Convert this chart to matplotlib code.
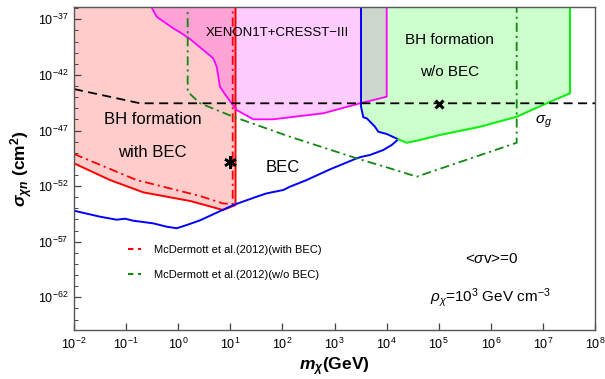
import numpy as np
import matplotlib
matplotlib.use("Agg")
import matplotlib.pyplot as plt
from matplotlib.ticker import FixedLocator, NullFormatter
from matplotlib.lines import Line2D

plt.rcParams['font.family'] = ['Liberation Sans', 'DejaVu Sans']
plt.rcParams['mathtext.fontset'] = 'custom'
plt.rcParams['mathtext.rm'] = 'Liberation Sans'
plt.rcParams['mathtext.it'] = 'Liberation Sans:italic'
plt.rcParams['mathtext.bf'] = 'Liberation Sans:bold'
plt.rcParams['mathtext.bfit'] = 'Liberation Sans:italic:bold'

TOP = -35.0  # log10 value above the plot top (regions extend upward)

# ---- data (log10 of m [GeV] and log10 of sigma [cm^2]) ----
red_solid_logm = [-2.0, -1.31, -0.67, 0.23, 0.42, 0.86, 1.10, 1.10]
red_solid_logs = [-49.95, -51.45, -52.56, -53.34, -53.58, -54.15, -53.70, TOP]

red_dd_logm = [-2.0, -0.80, -0.29, 0.42, 0.86, 1.046, 1.046]
red_dd_logs = [-49.11, -51.45, -52.05, -52.89, -53.56, -53.61, TOP]

mag_logm = [-0.618, -0.413, -0.094, 0.067, 0.226, 0.482, 0.674, 0.739, 0.802,
            0.931, 1.123, 1.441, 1.825, 2.785, 3.489, 4.002, 4.002]
mag_logs = [TOP, -36.77, -37.81, -38.26, -38.77, -39.76, -40.51, -41.26, -43.06,
            -43.96, -45.16, -45.99, -45.99, -45.45, -44.55, -43.96, TOP]

blue_logm = [-2.0, -1.501, -1.180, -1.021, -0.862, -0.478, -0.221, -0.029, 0.163,
             0.418, 1.058, 1.507, 1.685, 1.762, 2.017, 2.146, 2.466, 2.914, 3.426,
             3.522, 3.681, 3.937, 4.098, 4.225, 4.002, 3.841, 3.777, 3.714, 3.618,
             3.553, 3.509, 3.509]
blue_logs = [-54.21, -54.75, -55.02, -54.93, -55.11, -55.35, -55.65, -55.79, -55.50,
             -55.08, -53.70, -52.95, -52.67, -52.59, -52.35, -52.05, -51.45, -50.49,
             -49.50, -49.36, -49.20, -48.75, -48.30, -47.79, -47.31, -47.11, -46.66,
             -46.35, -45.90, -45.81, -44.86, TOP]
blue_turn = 23  # index of the turning point shared with the green boundary

green_logm = [4.225, 4.386, 4.641, 5.025, 5.793, 6.497, 7.073, 7.520, 7.520]
green_logs = [-47.79, -48.10, -47.85, -47.40, -46.66, -45.76, -44.55, -43.65, TOP]

gdd_logm = [0.182, 0.182, 0.418, 1.058, 2.146, 3.426, 4.065, 4.578, 6.497, 6.497]
gdd_logs = [TOP, -43.51, -44.55, -45.76, -47.56, -49.50, -50.40, -51.15, -48.10, TOP]

sigg_logm = [-2.0, -0.733, 8.0]
sigg_logs = [-43.27, -44.55, -44.55]

star_logm = [0.994]
star_logs = [-49.86]
cross_logm = [5.006]
cross_logs = [-44.64]

xticks_exp = list(range(-2, 9))
yticks_exp = [-62, -57, -52, -47, -42, -37]


def P(lm, ls):
    return 10.0 ** np.asarray(lm, float), 10.0 ** np.asarray(ls, float)


fig = plt.figure(figsize=(6.05, 3.79), dpi=100)
ax = fig.add_axes([74 / 605, 49 / 379, 521 / 605, 323 / 379])
ax.set_xscale('log')
ax.set_yscale('log')

# filled regions
rx, ry = P(red_solid_logm + [-2.0], red_solid_logs + [TOP])
ax.fill(rx, ry, color='red', alpha=0.2, lw=0)
mx, my = P(mag_logm, mag_logs)
ax.fill(mx, my, color='magenta', alpha=0.2, lw=0)
gpm = blue_logm[blue_turn:][::-1] + green_logm[1:]
gps = blue_logs[blue_turn:][::-1] + green_logs[1:]
gx, gy = P(gpm, gps)
ax.fill(gx, gy, color='#00ff00', alpha=0.2, lw=0)

DD = (5, 2.2, 1.2, 2.2)
# boundary lines
ax.plot(*P(red_solid_logm, red_solid_logs), color='red', lw=1.4)
ax.plot(*P(red_dd_logm, red_dd_logs), color='red', lw=1.3, dashes=DD)
ax.plot(*P(mag_logm, mag_logs), color='magenta', lw=1.3)
ax.plot(*P(blue_logm, blue_logs), color='blue', lw=1.4)
ax.plot(*P(green_logm, green_logs), color='#11ee11', lw=1.5)
ax.plot(*P(gdd_logm, gdd_logs), color='#118811', lw=1.3, dashes=DD)
ax.plot(*P(sigg_logm, sigg_logs), color='black', lw=1.3, dashes=(5, 3))

ax.plot(*P(star_logm, star_logs), ls='none', marker=(6, 2, 0), ms=9, mew=1.8, color='black')
ax.plot(*P(cross_logm, cross_logs), ls='none', marker='x', ms=6, mew=2.2, color='black')

ax.set_xlim(1e-2, 1e8)
ax.set_ylim(10 ** -64.94, 10 ** -35.89)

ax.xaxis.set_major_locator(FixedLocator([10.0 ** e for e in xticks_exp]))
ax.xaxis.set_minor_locator(FixedLocator([]))
ax.yaxis.set_major_locator(FixedLocator([10.0 ** e for e in yticks_exp]))
ax.yaxis.set_minor_locator(FixedLocator([10.0 ** e for e in range(-65, -35)]))
ax.yaxis.set_minor_formatter(NullFormatter())
ax.tick_params(axis='both', which='major', direction='in', length=5, width=0.9,
               labelsize=9, color='#444444', top=False, right=False)
ax.tick_params(axis='y', which='minor', direction='in', length=3, width=0.7, color='#444444')
ax.tick_params(axis='x', which='major', pad=5)
ax.tick_params(axis='y', which='major', pad=4)
for s in ax.spines.values():
    s.set_color('#555555')
    s.set_linewidth(1.0)

ax.set_xlabel(r'$\mathbfit{m_\chi}$(GeV)', fontsize=12.5, fontweight='bold', labelpad=2.5)
ax.set_ylabel(r'$\mathbfit{\sigma_{\chi n}}$ (cm$^\mathbf{2}$)', fontsize=12.5,
              fontweight='bold', labelpad=2)

tf = ax.transAxes
ax.text(0.152, 0.653, 'BH formation', transform=tf, ha='center', va='center', fontsize=12)
ax.text(0.150, 0.548, 'with BEC', transform=tf, ha='center', va='center', fontsize=12)
ax.text(0.390, 0.920, 'XENON1T+CRESST\u2212III', transform=tf, ha='center', va='center', fontsize=9.5)
ax.text(0.720, 0.898, 'BH formation', transform=tf, ha='center', va='center', fontsize=11)
ax.text(0.721, 0.799, 'w/o BEC', transform=tf, ha='center', va='center', fontsize=11)
ax.text(0.401, 0.502, 'BEC', transform=tf, ha='center', va='center', fontsize=12)
ax.text(0.902, 0.644, r'$\sigma_g$', transform=tf, ha='center', va='center', fontsize=11)
ax.text(0.802, 0.220, r'<$\sigma$v>=0', transform=tf, ha='center', va='center', fontsize=11)
ax.text(0.800, 0.099, r'$\rho_\chi$=10$^3$ GeV cm$^{-3}$', transform=tf, ha='center',
        va='center', fontsize=11)

handles = [Line2D([], [], color='red', lw=1.5, dashes=(2.6, 2.2)),
           Line2D([], [], color='#118811', lw=1.5, dashes=(2.6, 2.2))]
labels = ['McDermott et al.(2012)(with BEC)', 'McDermott et al.(2012)(w/o BEC)']
ax.legend(handles, labels, loc='upper left', bbox_to_anchor=((128 - 74) / 521, 0.262),
          frameon=False, borderpad=0, borderaxespad=0, handlelength=1.2,
          handletextpad=1.1, labelspacing=1.35, fontsize=8)

fig.savefig('out.png', dpi=100)
